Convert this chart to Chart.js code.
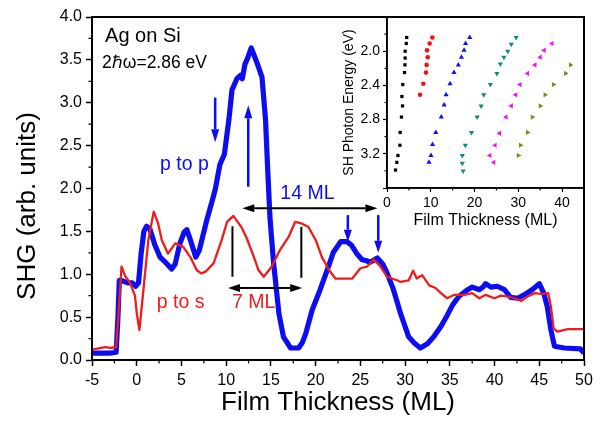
<!DOCTYPE html>
<html>
<head>
<meta charset="utf-8">
<script src="https://cdn.jsdelivr.net/npm/chart.js@4.4.1/dist/chart.umd.min.js"></script>
<style>
body { margin: 0; background: #fff; }
#wrap { position: relative; width: 601px; height: 422px; }
#main { position: absolute; left: 0; top: 0; }
#inset { position: absolute; left: 330px; top: 0; }
</style>
</head>
<body>
<div id="wrap">
<canvas id="main" width="601" height="422"></canvas>
<canvas id="inset" width="271" height="235"></canvas>
</div>
<script>
// p to p scan
var thickPP = [-5.0, -4.0, -3.0, -2.3, -2.1, -1.95, -1.5, -1.0, -0.5, -0.1, 0.2, 0.5, 0.8, 1.1, 1.5, 2.0, 2.6, 3.2, 3.9, 4.3,
  4.8, 5.3, 5.6, 6.0, 6.6, 7.0, 7.8, 8.5, 8.8, 9.3, 9.8, 10.3, 10.65, 11.2, 11.6, 11.8, 12.1, 12.4, 12.8, 13.1,
  13.5, 14.0, 14.4, 14.65, 14.9, 15.3, 15.9, 16.4, 17.2, 18.1, 18.5, 18.9, 19.6, 20.5, 21.3, 22.0, 22.8, 23.5, 24.0, 24.6,
  25.2, 25.6, 26.1, 26.9, 27.5, 28.0, 28.7, 29.5, 30.4, 31.0, 31.7, 32.5, 33.2, 34.0, 34.7, 35.3, 36.0, 37.0, 37.5, 38.3,
  38.7, 39.0, 39.6, 40.3, 41.1, 41.8, 42.6, 43.3, 44.2, 45.0, 45.5, 45.9, 46.3, 46.7, 47.8, 49.6, 50.0];
var shgPP = [0.08, 0.08, 0.08, 0.09, 0.5, 0.93, 0.92, 0.90, 0.90, 0.86, 0.90, 1.25, 1.50, 1.56, 1.52, 1.35, 1.20, 1.14, 1.06, 1.12,
  1.35, 1.49, 1.52, 1.40, 1.20, 1.28, 1.62, 1.88, 2.0, 2.28, 2.40, 2.80, 3.15, 3.28, 3.32, 3.28, 3.45, 3.52, 3.64, 3.56,
  3.45, 3.30, 2.8, 2.2, 1.65, 1.13, 0.54, 0.27, 0.14, 0.14, 0.20, 0.31, 0.58, 0.82, 1.05, 1.26, 1.38, 1.38, 1.34, 1.24,
  1.17, 1.16, 1.14, 1.19, 1.12, 1.01, 0.82, 0.54, 0.27, 0.20, 0.14, 0.19, 0.27, 0.39, 0.52, 0.64, 0.74, 0.82, 0.85, 0.82,
  0.85, 0.89, 0.85, 0.86, 0.82, 0.73, 0.72, 0.76, 0.82, 0.89, 0.78, 0.62, 0.35, 0.16, 0.14, 0.13, 0.08];

// p to s scan
var thickPS = [-5.0, -4.0, -3.5, -3.0, -2.3, -2.0, -1.7, -1.3, -0.75, -0.2, 0.0, 0.3, 0.75, 1.3, 1.9, 2.4, 2.8, 3.5, 4.3, 5.2,
  6.0, 6.7, 7.2, 7.7, 8.6, 9.5, 10.1, 10.8, 11.7, 12.3, 13.1, 13.6, 14.2, 15.1, 16.0, 17.0, 17.7, 18.5, 19.2, 20.0,
  20.7, 21.5, 22.2, 23.1, 24.1, 25.0, 25.75, 26.5, 27.25, 28.0, 29.1, 29.5, 30.4, 30.9, 31.3, 31.9, 32.7, 33.4, 34.0, 34.7,
  35.5, 36.6, 37.5, 38.3, 39.0, 40.0, 40.7, 41.5, 42.2, 43.0, 43.7, 44.5, 45.2, 46.0, 46.3, 46.6, 47.0, 48.2, 50.0];
var shgPS = [0.12, 0.14, 0.15, 0.14, 0.15, 0.6, 1.09, 0.98, 0.90, 0.75, 0.55, 0.35, 0.82, 1.40, 1.73, 1.59, 1.40, 1.24, 1.36, 1.32,
  1.20, 1.05, 1.01, 1.03, 1.13, 1.40, 1.61, 1.68, 1.55, 1.42, 1.20, 1.05, 0.97, 1.09, 1.28, 1.44, 1.61, 1.59, 1.55, 1.40,
  1.20, 1.05, 0.95, 0.95, 0.95, 1.07, 1.09, 1.17, 1.09, 0.97, 0.93, 0.91, 0.93, 1.04, 0.95, 0.99, 0.87, 0.84, 0.78, 0.72,
  0.76, 0.76, 0.78, 0.72, 0.76, 0.72, 0.75, 0.74, 0.72, 0.69, 0.74, 0.78, 0.77, 0.78, 0.62, 0.37, 0.33, 0.36, 0.36];

// inset: peak positions vs SH photon energy
var blackX = [4.5, 4.4, 4.15, 4.15, 4.1, 4.0, 3.6, 3.4, 3.55, 3.3, 3.0, 2.95, 2.5, 2.25, 1.95];
var blackE = [1.84, 1.91, 2.0, 2.08, 2.16, 2.25, 2.39, 2.53, 2.64, 2.77, 2.95, 3.10, 3.22, 3.30, 3.39];
var redX = [10.35, 9.75, 9.15, 9.3, 9.05, 8.9, 8.3, 7.55];
var redE = [1.84, 1.91, 1.99, 2.07, 2.16, 2.25, 2.38, 2.51];
var blueX = [18.9, 17.95, 17.6, 17.0, 16.3, 15.3, 14.4, 13.5, 13.05, 12.4, 11.15, 10.4, 10.05, 9.6];
var blueE = [1.84, 1.91, 1.99, 2.07, 2.16, 2.25, 2.38, 2.51, 2.63, 2.77, 2.95, 3.09, 3.22, 3.30];
var tealX = [29.5, 28.4, 27.6, 26.7, 25.9, 25.1, 23.6, 22.1, 21.5, 20.6, 19.3, 17.9, 17.2, 17.2, 17.4];
var tealE = [1.84, 1.92, 2.0, 2.07, 2.15, 2.26, 2.39, 2.51, 2.64, 2.77, 2.95, 3.10, 3.22, 3.31, 3.40];
var magentaX = [37.7, 35.9, 35.0, 33.8, 32.1, 30.4, 29.4, 28.4, 27.2, 25.7, 24.7, 23.5, 24.4];
var magentaE = [1.91, 1.99, 2.07, 2.16, 2.26, 2.39, 2.51, 2.64, 2.77, 2.96, 3.10, 3.22, 3.30];
var oliveX = [41.9, 40.8, 38.0, 36.1, 35.0, 33.2, 32.1, 30.5, 30.0];
var oliveE = [2.16, 2.26, 2.39, 2.51, 2.64, 2.77, 2.95, 3.10, 3.22];
var insetTicksX = [0, 10, 20, 30, 40];

var FONT = "'Liberation Sans', Arial, sans-serif";
var BLUE = '#0d0df2';
var RED = '#ee1c1c';
Chart.defaults.font.family = FONT;
Chart.defaults.color = '#000';

function pairs(xs, ys) {
  return xs.map(function(x, i) { return { x: x, y: ys[i] }; });
}

function arrow(ctx, x1, y1, x2, y2, color, lw, hl, hw) {
  var ang = Math.atan2(y2 - y1, x2 - x1);
  var bx = x2 - hl * Math.cos(ang), by = y2 - hl * Math.sin(ang);
  ctx.strokeStyle = color; ctx.fillStyle = color; ctx.lineWidth = lw;
  ctx.beginPath(); ctx.moveTo(x1, y1); ctx.lineTo(bx, by); ctx.stroke();
  ctx.beginPath();
  ctx.moveTo(x2, y2);
  ctx.lineTo(bx + hw / 2 * Math.sin(ang), by - hw / 2 * Math.cos(ang));
  ctx.lineTo(bx - hw / 2 * Math.sin(ang), by + hw / 2 * Math.cos(ang));
  ctx.closePath(); ctx.fill();
}

// closed frame + short minor ticks
function frameMinor(minX, minY, len, lw) {
  return {
    id: 'frameMinor',
    afterDraw: function(chart) {
      var ctx = chart.ctx, a = chart.chartArea;
      var sx = chart.scales.x, sy = chart.scales.y;
      ctx.save();
      ctx.strokeStyle = '#000';
      ctx.lineWidth = lw;
      ctx.strokeRect(a.left, a.top, a.right - a.left, a.bottom - a.top);
      ctx.lineWidth = 1.2;
      ctx.beginPath();
      minX.forEach(function(v) {
        var px = sx.getPixelForValue(v);
        ctx.moveTo(px, a.bottom); ctx.lineTo(px, a.bottom + len);
      });
      minY.forEach(function(v) {
        var py = sy.getPixelForValue(v);
        ctx.moveTo(a.left, py); ctx.lineTo(a.left - len, py);
      });
      ctx.stroke();
      ctx.restore();
    }
  };
}

// arrows, markers and labels on the main plot
var notes = {
  id: 'notes',
  afterDatasetsDraw: function(chart) {
    var ctx = chart.ctx;
    var X = function(v) { return chart.scales.x.getPixelForValue(v); };
    var Y = function(v) { return chart.scales.y.getPixelForValue(v); };
    ctx.save();
    // blue arrows
    arrow(ctx, X(8.77), Y(3.06), X(8.77), Y(2.54), BLUE, 2.5, 13, 8);
    arrow(ctx, X(12.47), Y(2.02), X(12.47), Y(2.97), BLUE, 2.5, 13, 8);
    arrow(ctx, X(23.6), Y(1.69), X(23.6), Y(1.38), BLUE, 2.5, 12, 8);
    arrow(ctx, X(27.0), Y(1.69), X(27.0), Y(1.25), BLUE, 2.5, 12, 8);
    // 14 ML span
    var m14 = (11.8 + 26.9) / 2;
    arrow(ctx, X(m14), Y(1.77), X(11.8), Y(1.77), '#000', 2, 12, 8);
    arrow(ctx, X(m14), Y(1.77), X(26.9), Y(1.77), '#000', 2, 12, 8);
    // 7 ML span
    ctx.strokeStyle = '#000'; ctx.lineWidth = 2;
    ctx.beginPath();
    ctx.moveTo(X(10.7), Y(1.56)); ctx.lineTo(X(10.7), Y(0.97));
    ctx.moveTo(X(18.4), Y(1.55)); ctx.lineTo(X(18.4), Y(0.96));
    ctx.stroke();
    var m7 = (10.2 + 18.5) / 2;
    arrow(ctx, X(m7), Y(0.84), X(10.2), Y(0.84), '#000', 2, 12, 8);
    arrow(ctx, X(m7), Y(0.84), X(18.5), Y(0.84), '#000', 2, 12, 8);
    // labels
    ctx.textBaseline = 'alphabetic';
    ctx.textAlign = 'left';
    ctx.fillStyle = '#000';
    ctx.font = '20px ' + FONT;
    ctx.fillText('Ag on Si', X(-3.54), Y(3.71));
    ctx.font = '17.5px ' + FONT;
    ctx.fillText('2\u210F\u03C9=2.86 eV', X(-3.88), Y(3.405));
    ctx.font = '19.5px ' + FONT;
    ctx.fillStyle = BLUE;
    ctx.fillText('p to p', X(2.61), Y(2.22));
    ctx.fillText('14 ML', X(16.05), Y(1.88));
    ctx.fillStyle = RED;
    ctx.fillText('p to s', X(2.24), Y(0.61));
    ctx.fillText('7 ML', X(10.64), Y(0.61));
    // y axis title
    ctx.fillStyle = '#000';
    ctx.font = '26px ' + FONT;
    ctx.textAlign = 'center';
    ctx.textBaseline = 'middle';
    ctx.translate(28, 206);
    ctx.rotate(-Math.PI / 2);
    ctx.fillText('SHG (arb. units)', 0, 0);
    ctx.restore();
  }
};

var mainMinX = [], mainMinY = [];
for (var i = 0; i < 11; i++) mainMinX.push(-2.5 + 5 * i);
for (var j = 0; j < 8; j++) mainMinY.push(0.25 + 0.5 * j);

new Chart(document.getElementById('main'), {
  type: 'line',
  data: {
    datasets: [
      { label: 'p to s', data: pairs(thickPS, shgPS), borderColor: RED, borderWidth: 2.3, pointRadius: 0, tension: 0,
        borderJoinStyle: 'round' },
      { label: 'p to p', data: pairs(thickPP, shgPP), borderColor: BLUE, borderWidth: 5.2, pointRadius: 0, tension: 0,
        borderJoinStyle: 'round' }
    ]
  },
  options: {
    responsive: false,
    animation: false,
    devicePixelRatio: 1,
    layout: { padding: { top: 17, right: 17, left: 0, bottom: 0 } },
    plugins: { legend: { display: false }, tooltip: { enabled: false } },
    scales: {
      x: {
        type: 'linear', min: -5, max: 50,
        ticks: { stepSize: 5, font: { size: 16 }, padding: 5, maxRotation: 0, autoSkip: false },
        grid: { drawOnChartArea: false, tickLength: 6, tickColor: '#000', tickWidth: 1.5 },
        border: { color: '#000', width: 2 },
        title: { display: true, text: 'Film Thickness (ML)', font: { size: 26 }, padding: { top: 0, bottom: 4 } },
        afterFit: function(s) { s.height = 62; }
      },
      y: {
        min: 0, max: 4,
        ticks: { stepSize: 0.5, font: { size: 16 }, padding: 4, autoSkip: false,
          callback: function(v) { return Number(v).toFixed(1); } },
        grid: { drawOnChartArea: false, tickLength: 6, tickColor: '#000', tickWidth: 1.5 },
        border: { color: '#000', width: 2 },
        afterFit: function(s) { s.width = 92; }
      }
    }
  },
  plugins: [notes, frameMinor(mainMinX, mainMinY, 3.5, 2)]
});

function marker(xs, es, color, style, r, rot) {
  return {
    data: pairs(xs, es), pointStyle: style, pointRadius: r, rotation: rot || 0,
    backgroundColor: color, borderColor: color, borderWidth: 0
  };
}

new Chart(document.getElementById('inset'), {
  type: 'scatter',
  data: {
    datasets: [
      marker(blackX, blackE, '#000', 'rect', 2.3),
      marker(redX, redE, '#f21010', 'circle', 2.3),
      marker(blueX, blueE, '#1010f0', 'triangle', 3),
      marker(tealX, tealE, '#108585', 'triangle', 3, 180),
      marker(magentaX, magentaE, '#f010f0', 'triangle', 3, 270),
      marker(oliveX, oliveE, '#86861a', 'triangle', 3, 90)
    ]
  },
  options: {
    responsive: false,
    animation: false,
    devicePixelRatio: 1,
    layout: { padding: { top: 17, right: 17, left: 0, bottom: 0 } },
    plugins: { legend: { display: false }, tooltip: { enabled: false } },
    scales: {
      x: {
        type: 'linear', min: 0, max: 45,
        afterBuildTicks: function(s) {
          s.ticks = insetTicksX.map(function(v) { return { value: v }; });
        },
        ticks: { font: { size: 14 }, padding: 3, maxRotation: 0, autoSkip: false },
        grid: { drawOnChartArea: false, tickLength: 4, tickColor: '#000', tickWidth: 1.2 },
        border: { color: '#000', width: 1.6 },
        title: { display: true, text: 'Film Thickness (ML)', font: { size: 16 }, padding: { top: 0, bottom: 5 } },
        afterFit: function(s) { s.height = 47; }
      },
      y: {
        type: 'linear', reverse: true, min: 1.6, max: 3.6,
        ticks: { stepSize: 0.4, font: { size: 14 }, padding: 3, autoSkip: false,
          callback: function(v) { return (v > 1.7 && v < 3.5) ? Number(v).toFixed(1) : ''; } },
        grid: { drawOnChartArea: false, tickLength: 4, tickColor: '#000', tickWidth: 1.2 },
        border: { color: '#000', width: 1.6 },
        title: { display: true, text: 'SH Photon Energy (eV)', font: { size: 14 }, padding: { top: 11, bottom: 0 } },
        afterFit: function(s) { s.width = 57; }
      }
    }
  },
  plugins: [frameMinor([5, 15, 25, 35], [1.8, 2.2, 2.6, 3.0, 3.4], 2.5, 1.6)]
});
</script>
</body>
</html>
